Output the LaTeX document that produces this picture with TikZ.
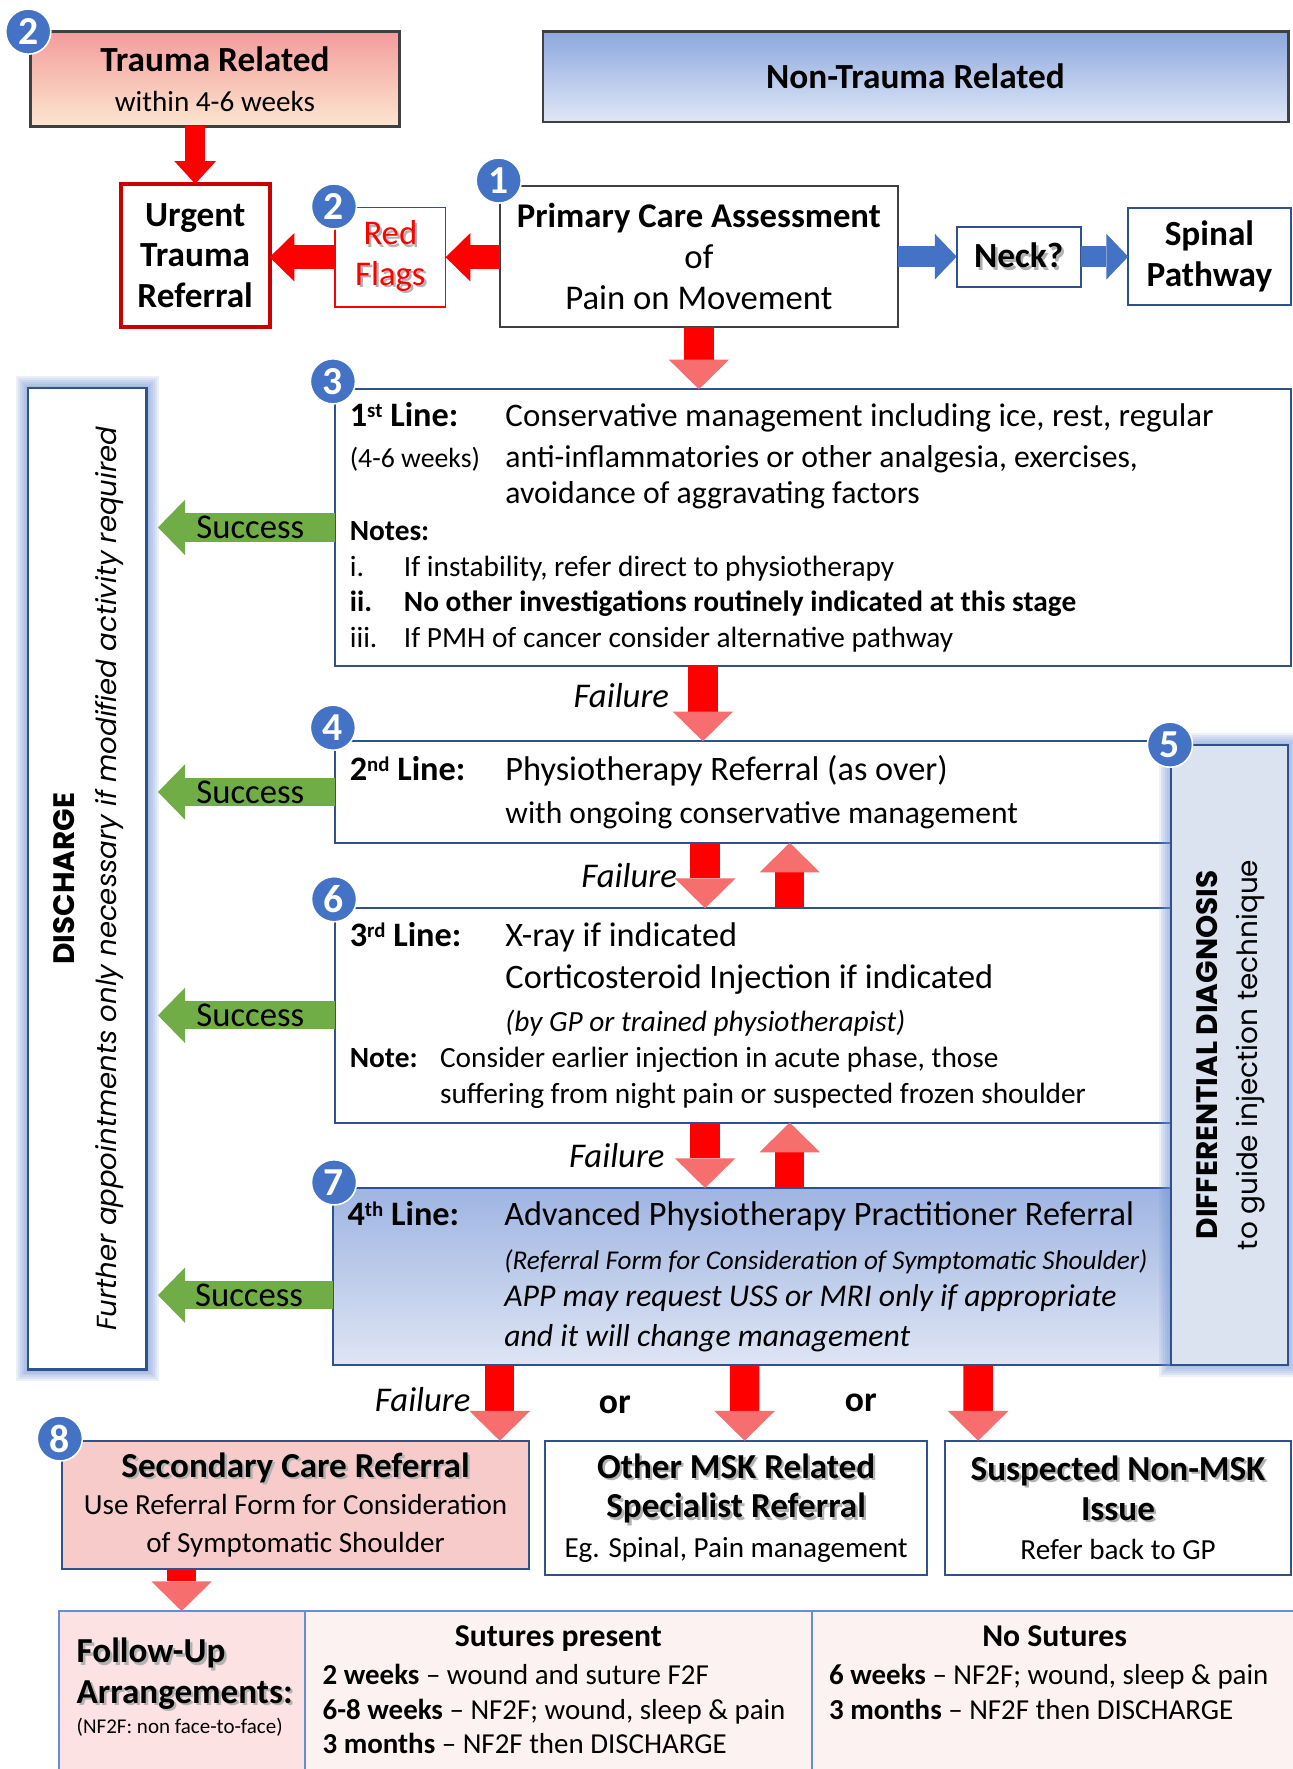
\documentclass[tikz,border=0pt]{standalone}
\usepackage{fontspec}
\setmainfont{Carlito}
\newfontfamily\gothicfont{Poppins}
\usepackage{xcolor}
\usepackage{tikz}
\usetikzlibrary{arrows.meta, positioning, calc}
\definecolor{LineNavy}{RGB}{47, 82, 143}
\definecolor{BoxGrey}{RGB}{64, 64, 64}
\definecolor{BadgeBlue}{RGB}{68, 114, 196}
\definecolor{ArrowRed}{RGB}{255, 0, 0}
\definecolor{FailTip}{RGB}{246, 110, 110}
\definecolor{UrgentRed}{RGB}{200, 0, 0}
\definecolor{SuccGreen}{RGB}{112, 173, 71}
\definecolor{TraumaTop}{RGB}{243, 156, 156}
\definecolor{TraumaBottom}{RGB}{252, 230, 208}
\definecolor{NonTop}{RGB}{140, 168, 222}
\definecolor{NonBottom}{RGB}{224, 231, 246}
\definecolor{AppTop}{RGB}{158, 180, 226}
\definecolor{AppBottom}{RGB}{222, 229, 244}
\definecolor{DDFill}{RGB}{219, 227, 241}
\definecolor{SecFill}{RGB}{248, 203, 203}
\definecolor{FUpLeft}{RGB}{252, 226, 226}
\definecolor{FUpRest}{RGB}{253, 242, 242}
\definecolor{TableBlue}{RGB}{102, 142, 212}
\definecolor{GlowBlue}{RGB}{120, 152, 214}
\pgfdeclarelayer{background}
\pgfdeclarelayer{glow}
\pgfdeclarelayer{front}
\pgfsetlayers{background,main,glow,front}
\newcommand{\txtshadow}[1]{\leavevmode\rlap{\kern1.2pt\raisebox{-1.2pt}{\textcolor{black!30}{#1}}}#1}
\newcommand{\ordsup}[1]{\raisebox{0.55ex}{\fontsize{10.5}{10.5}\selectfont #1}}

\begin{document}
\begin{tikzpicture}[x=0.02cm, y=-0.02cm,
    every node/.style={inner sep=0pt, outer sep=0pt},
    plainbox/.style={draw=BoxGrey, line width=1.2pt, fill=white, align=flush center},
    navybox/.style={draw=LineNavy, line width=1pt, fill=white, align=flush center},
    stagebox/.style={draw=LineNavy, line width=1pt, fill=white, align=flush left, inner xsep=0.26cm},
    cellbox/.style={draw=TableBlue, line width=1pt, anchor=north west, align=flush left},
    badge/.style={circle, fill=BadgeBlue, draw=white, line width=0.8pt, minimum size=0.8cm, text=white, font=\fontsize{20}{20}\selectfont\bfseries},
    redblock/.style={draw=ArrowRed, line width=10pt, -{Triangle[width=21pt, length=11.5pt, line width=0pt]}},
    redside/.style={draw=ArrowRed, line width=12pt, -{Triangle[width=24.5pt, length=12.5pt, line width=0pt]}},
    blueblock/.style={draw=BadgeBlue, line width=10.8pt, -{Triangle[width=23pt, length=11pt, line width=0pt]}},
    failblock/.style={draw=ArrowRed, line width=14.8pt, -{Triangle[width=30.5pt, length=15pt, line width=0pt, color=FailTip]}},
    succblock/.style={draw=SuccGreen, line width=14.2pt, -{Triangle[width=28pt, length=13.7pt, line width=0pt]}, shorten >=5.7pt},
    succtext/.style={font=\fontsize{17.5}{17.5}\selectfont},
    failtext/.style={font=\fontsize{17.5}{17.5}\selectfont\itshape}]

  \begin{pgfonlayer}{background}
    \fill[white] (0,0) rectangle (1146,1568);
  \end{pgfonlayer}
  \useasboundingbox (0,0) rectangle (1146,1568);

  \node[plainbox, top color=TraumaTop, bottom color=TraumaBottom, minimum width=6.54cm, minimum height=1.68cm, font=\fontsize{14.7}{20}\selectfont]
    (trauma) at (190.5,70) {{\fontsize{17.8}{20}\selectfont\bfseries Trauma Related}\\within 4-6 weeks};
  \node[plainbox, top color=NonTop, bottom color=NonBottom, minimum width=13.22cm, minimum height=1.60cm, font=\fontsize{17.8}{20}\selectfont\bfseries]
    (nontrauma) at (811.5,68) {Non-Trauma Related};
  \node[draw=UrgentRed, line width=2pt, fill=white, align=flush center, minimum width=2.64cm, minimum height=2.54cm, font=\fontsize{17.8}{20.5}\selectfont\bfseries]
    (urgent) at (173,226.5) {Urgent\\Trauma\\Referral};
  \node[draw=ArrowRed, line width=0.8pt, fill=white, align=flush center, text=ArrowRed, minimum width=1.96cm, minimum height=1.76cm, font=\fontsize{17.5}{20.5}\selectfont]
    (flags) at (346,228) {\txtshadow{Red}\\\txtshadow{Flags}};
  \node[plainbox, minimum width=7.06cm, minimum height=2.50cm, font=\fontsize{17.5}{20.8}\selectfont]
    (primary) at (619.5,227.5) {{\bfseries Primary Care Assessment}\\of\\Pain on Movement};
  \node[navybox, minimum width=2.20cm, minimum height=1.06cm, font=\fontsize{17.8}{20}\selectfont\bfseries]
    (neck) at (903,227.5) {\txtshadow{Neck?}};
  \node[navybox, minimum width=2.88cm, minimum height=1.72cm, font=\fontsize{17.8}{20.5}\selectfont\bfseries]
    (spinal) at (1072,227) {Spinal\\Pathway};

  \node[navybox, line width=1.2pt, minimum width=2.10cm, minimum height=17.40cm]
    (discharge) at (77.5,779) {\rotatebox{90}{\gothicfont\fontsize{13.9}{21}\selectfont\begin{tabular}{@{}c@{}}{\fontsize{14.9}{21}\selectfont\bfseries DISCHARGE}\\{\itshape Further appointments only necessary if modified activity required}\end{tabular}}};

  \node[stagebox, minimum width=16.94cm, minimum height=4.90cm, text width=16.42cm, font=\fontsize{16}{18}\selectfont]
    (line1) at (720.5,467.5)
    {\makebox[2.76cm][l]{\fontsize{17.3}{18}\selectfont\bfseries 1\ordsup{st} Line:}{\fontsize{16.6}{18}\selectfont Conservative management including ice, rest, regular}\\[2.5pt]
     \makebox[2.76cm][l]{\fontsize{14}{18}\selectfont(4-6 weeks)}anti-inflammatories or other analgesia, exercises,\\[0.2pt]
     \hspace*{2.76cm}avoidance of aggravating factors\\[0.8pt]
     \fontsize{14.8}{18}\selectfont\textbf{Notes:}\\
     \makebox[0.96cm][l]{i.}If instability, refer direct to physiotherapy\\
     \makebox[0.96cm][l]{\bfseries ii.}\textbf{No other investigations routinely indicated at this stage}\\
     \makebox[0.96cm][l]{iii.}If PMH of cancer consider alternative pathway};
  \node[stagebox, minimum width=14.82cm, minimum height=1.80cm, text width=14.30cm, font=\fontsize{17.3}{18}\selectfont]
    (line2) at (667.5,702)
    {\makebox[2.76cm][l]{\bfseries 2\ordsup{nd} Line:}Physiotherapy Referral (as over)\\[3.6pt]
     \hspace*{2.76cm}{\fontsize{15.9}{18}\selectfont with ongoing conservative management}};
  \node[stagebox, minimum width=14.82cm, minimum height=3.80cm, text width=14.30cm, font=\fontsize{17.3}{18}\selectfont]
    (line3) at (667.5,900)
    {\makebox[2.76cm][l]{\bfseries 3\ordsup{rd} Line:}X-ray if indicated\\[3.1pt]
     \hspace*{2.76cm}Corticosteroid Injection if indicated\\[3.6pt]
     \hspace*{2.76cm}{\fontsize{14.8}{18}\selectfont\itshape (by GP or trained physiotherapist)}\\[0.2pt]
     \fontsize{14.8}{18}\selectfont\makebox[1.6cm][l]{\bfseries Note:}Consider earlier injection in acute phase, those\\
     \hspace*{1.6cm}suffering from night pain or suspected frozen shoulder};
  \node[stagebox, top color=AppTop, bottom color=AppBottom, minimum width=14.86cm, minimum height=3.14cm, text width=14.34cm, font=\fontsize{17.3}{18}\selectfont]
    (line4) at (666.5,1131.5)
    {\makebox[2.78cm][l]{\bfseries 4\ordsup{th} Line:}Advanced Physiotherapy Practitioner Referral\\[4.2pt]
     \hspace*{2.78cm}\mbox{\fontsize{13.7}{18}\selectfont\itshape (Referral Form for Consideration of Symptomatic Shoulder)}\\[0.8pt]
     \hspace*{2.78cm}\mbox{\fontsize{16}{18}\selectfont\itshape APP may request USS or MRI only if appropriate}\\[1.9pt]
     \hspace*{2.78cm}\mbox{\fontsize{16}{18}\selectfont\itshape and it will change management}};

  \begin{pgfonlayer}{front}
    \node[navybox, fill=DDFill, minimum width=2.08cm, minimum height=11cm]
      (dd) at (1090,935) {\rotatebox{90}{\gothicfont\fontsize{14.1}{20}\selectfont\begin{tabular}{@{}c@{}}{\fontsize{14.9}{20}\selectfont\bfseries DIFFERENTIAL DIAGNOSIS}\\to guide injection technique\end{tabular}}};
    \node[badge] (b5) at ($(dd.north west)+(-1,0)$) {5};
  \end{pgfonlayer}

  \node[navybox, fill=SecFill, minimum width=8.28cm, minimum height=2.28cm, font=\fontsize{14.7}{19}\selectfont]
    (secondary) at (262,1334) {{\fontsize{17.7}{19}\selectfont\bfseries\txtshadow{Secondary Care Referral}}\\Use Referral Form for Consideration\\of Symptomatic Shoulder};
  \node[navybox, minimum width=6.78cm, minimum height=2.38cm, font=\fontsize{14.7}{20}\selectfont]
    (othermsk) at (652.5,1336.5) {{\fontsize{17.7}{20}\selectfont\bfseries\txtshadow{Other MSK Related}}\\{\fontsize{17.7}{20}\selectfont\bfseries\txtshadow{Specialist Referral}}\\Eg. Spinal, Pain management};
  \node[navybox, minimum width=6.12cm, minimum height=2.38cm, font=\fontsize{14.7}{20}\selectfont]
    (nonmsk) at (991,1336.5) {{\fontsize{17.7}{20}\selectfont\bfseries\txtshadow{Suspected Non-MSK}}\\{\fontsize{17.7}{20}\selectfont\bfseries\txtshadow{Issue}}\\Refer back to GP};

  \node[cellbox, fill=FUpLeft, text width=3.72cm, inner xsep=0.32cm, inner ysep=0.48cm, font=\fontsize{17.7}{20.5}\selectfont\bfseries]
    (fu) at (52,1428) {\txtshadow{Follow-Up}\\\txtshadow{Arrangements:}\\[-5.5pt]{\fontsize{10.6}{12}\selectfont\mdseries (NF2F: non face-to-face)}\rule[-2cm]{0pt}{0pt}};
  \node[cellbox, fill=FUpRest, text width=8.36cm, inner xsep=0.32cm, inner ysep=0.26cm, font=\fontsize{14.6}{17.3}\selectfont]
    (sutures) at (fu.north east) {\makebox[8.36cm]{\fontsize{16}{17.3}\selectfont\bfseries Sutures present}\\[2.1pt]
     \mbox{\textbf{2 weeks} -- wound and suture F2F}\\
     \mbox{\textbf{6-8 weeks} -- NF2F; wound, sleep \& pain}\\
     \mbox{\textbf{3 months} -- NF2F then DISCHARGE}\rule[-1.5cm]{0pt}{0pt}};
  \node[cellbox, fill=FUpRest, text width=8.0cm, inner xsep=0.3cm, inner ysep=0.26cm, font=\fontsize{14.6}{17.3}\selectfont]
    (nosutures) at (sutures.north east) {\makebox[8.0cm]{\fontsize{16}{17.3}\selectfont\bfseries No Sutures}\\[2.1pt]
     \mbox{\textbf{6 weeks} -- NF2F; wound, sleep \& pain}\\
     \mbox{\textbf{3 months} -- NF2F then DISCHARGE}\rule[-2.5cm]{0pt}{0pt}};

  \begin{pgfonlayer}{background}
    \foreach \g in {1,...,6}
      \draw[GlowBlue, opacity=0.15, line width=\g*2pt] (discharge.south west) rectangle (discharge.north east);
  \end{pgfonlayer}
  \begin{pgfonlayer}{glow}
    \foreach \g in {1,...,6}
      \draw[GlowBlue, opacity=0.14, line width=\g*2pt] (dd.south west) rectangle (dd.north east);
  \end{pgfonlayer}

  \draw[redblock] (urgent.north |- trauma.south) -- (urgent.north);
  \draw[redside] (flags.west) -- (flags.west -| urgent.east);
  \draw[redside] (primary.west |- flags.west) -- (flags.east);
  \draw[blueblock] (primary.east |- neck.west) -- (neck.west);
  \draw[blueblock] (neck.east) -- (neck.east -| spinal.west);
  \draw[failblock] (primary.south) -- (primary.south |- line1.north);

  \draw[failblock] ($(line1.south)+(-97.5,0)$) -- node[left=0.6cm, yshift=0.14cm, failtext] (fail1) {Failure} ($(line2.north)+(-44.5,0)$);
  \draw[failblock] ($(line2.south)+(-42.5,0)$) -- node[left=0.5cm, failtext] (fail2) {Failure} ($(line3.north)+(-42.5,0)$);
  \draw[failblock] ($(line3.north)+(32.5,0)$) -- ($(line2.south)+(32.5,0)$);
  \draw[failblock] ($(line3.south)+(-42.5,0)$) -- node[left=0.72cm, failtext] (fail3) {Failure} ($(line4.north)+(-41.5,0)$);
  \draw[failblock] ($(line4.north)+(33.5,0)$) -- ($(line3.south)+(32.5,0)$);
  \draw[failblock] ($(line4.south)+(-223.5,0)$) -- node[left=0.52cm, yshift=0.06cm, failtext] (fail4) {Failure} ($(secondary.north)+(181,0)$);
  \draw[failblock] ($(line4.south)+(-6.5,0)$) -- ($(othermsk.north)+(7.5,0)$);
  \draw[failblock] ($(line4.south)+(200.5,0)$) -- ($(nonmsk.north)+(-124,0)$);
  \draw[failblock] (fu.north |- secondary.south) -- (fu.north);

  \node[font=\fontsize{18}{18}\selectfont\bfseries] (or1) at (545,1245) {or};
  \node[font=\fontsize{18}{18}\selectfont\bfseries] (or2) at (763,1243) {or};

  \coordinate (succstart) at ($(line4.west)+(0,16.5)$);
  \draw[succblock] (line1.west) -- node[pos=0.45, succtext] (succ1) {Success} (line1.west -| discharge.east);
  \draw[succblock] (line2.west) -- node[pos=0.45, succtext] (succ2) {Success} (line2.west -| discharge.east);
  \draw[succblock] (line3.west) -- node[pos=0.45, succtext] (succ3) {Success} (line3.west -| discharge.east);
  \draw[succblock] (succstart) -- node[pos=0.45, succtext] (succ4) {Success} (succstart -| discharge.east);

  \node[badge] (b2a) at ($(trauma.north west)+(-2,0)$) {2};
  \node[badge] (b2b) at ($(flags.north west)+(-1,-1)$) {2};
  \node[badge] (b1) at ($(primary.north west)+(-1,-5)$) {1};
  \node[badge] (b3) at ($(line1.north west)+(-2,-7)$) {3};
  \node[badge] (b4) at ($(line2.north west)+(-2,-12)$) {4};
  \node[badge] (b6) at ($(line3.north west)+(-1,-8)$) {6};
  \node[badge] (b7) at ($(line4.north west)+(1,-5)$) {7};
  \node[badge] (b8) at ($(secondary.north west)+(-2,-2)$) {8};
\end{tikzpicture}
\end{document}
